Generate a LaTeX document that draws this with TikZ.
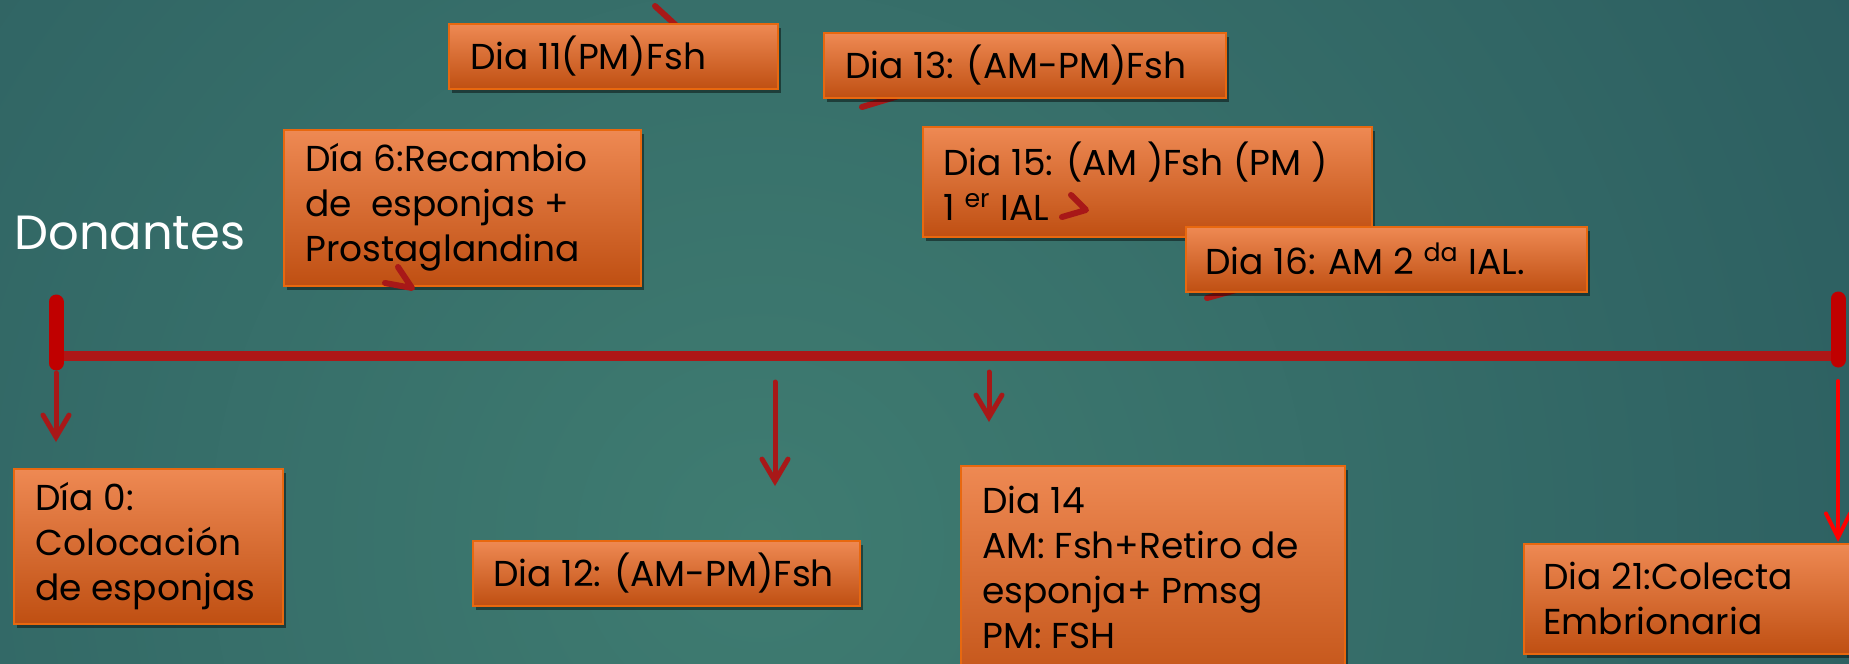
\documentclass[tikz,border=0pt]{standalone}
\usepackage{fontspec}
\setmainfont{Poppins}
\usetikzlibrary{arrows.meta,shadows}
\definecolor{bgdark}{HTML}{1D4653}
\definecolor{bglight}{HTML}{3F7C71}
\definecolor{boxtop}{HTML}{EE8953}
\definecolor{boxbot}{HTML}{BF4F12}
\definecolor{boxline}{HTML}{E8680F}
\definecolor{tlred}{HTML}{AE1717}
\definecolor{barred}{HTML}{C00000}
\definecolor{arrred}{HTML}{A81818}
\definecolor{brightred}{HTML}{FF0000}
\tikzset{
  evbox/.style={draw=boxline, line width=1.2pt, top color=boxtop, bottom color=boxbot,
    anchor=north west, inner sep=0pt,
    drop shadow={shadow xshift=1.5pt, shadow yshift=-2pt, opacity=0.45, fill=black}},
  evtext/.style={anchor=west, align=left, inner sep=0pt,
    font=\fontsize{18}{22.5}\selectfont, text=black},
  tline/.style={draw=tlred, line width=5pt},
  endbar/.style={draw=barred, line width=7.5pt, line cap=round},
  downarrow/.style={draw=arrred, line width=2.5pt, line cap=round,
    -{Straight Barb[length=11pt,width=13pt,line cap=round]}},
  brightarrow/.style={draw=brightred, line width=2pt, line cap=round,
    -{Straight Barb[length=12pt,width=12pt,line cap=round]}},
  frag/.style={draw=arrred, line width=3pt, line cap=round, line join=round}
}
\begin{document}
\begin{tikzpicture}[x=0.5pt,y=-0.5pt]
\useasboundingbox (0,0) rectangle (1849,664);
\clip (0,0) rectangle (1849,664);
% background
\fill[bgdark] (0,0) rectangle (1849,664);
\shade[inner color=bglight, outer color=bgdark] (760,540) circle (2200);

% fragments of connectors hidden behind boxes
\draw[frag] (655,6) -- (692,40);
\draw[frag] (862,107) -- (905,94);
\draw[frag] (1207,298) -- (1236,290);

% timeline
\coordinate (tlL) at (62,356);
\coordinate (tlR) at (1833,356);
\draw[tline] (tlL) -- (tlR);
\coordinate (barLt) at (56,302);
\coordinate (barLb) at (56,363);
\coordinate (barRt) at (1838,299);
\coordinate (barRb) at (1838,360);
\draw[endbar] (barLt) -- (barLb);
\draw[endbar] (barRt) -- (barRb);

% down arrows
\coordinate (a0s) at (56,373);
\coordinate (a0e) at (56,442);
\coordinate (a12s) at (775,382);
\coordinate (a12e) at (775,486);
\coordinate (a14s) at (989,372);
\coordinate (a14e) at (989,422);
\coordinate (a21s) at (1838,381);
\coordinate (a21e) at (1838,542);
\draw[downarrow] (a0s) -- (a0e);
\draw[downarrow] (a12s) -- (a12e);
\draw[downarrow] (a14s) -- (a14e);
\draw[brightarrow] (a21s) -- (a21e);

% boxes
\node[evbox, minimum width=164.5pt, minimum height=32.5pt] (d11) at (448,23) {};
\node[evtext] (t11) at (470,56) {Dia 11(PM)Fsh};
\node[evbox, minimum width=201pt, minimum height=32.5pt] (d13) at (823,32) {};
\node[evtext] (t13) at (845,65) {Dia 13: (AM-PM)Fsh};
\node[evbox, minimum width=178.5pt, minimum height=78pt] (d6) at (283,129) {};
\node[evtext] (t6) at (305,207) {Día 6:Recambio\\de~ esponjas +\\Prostaglandina};
\node[evbox, minimum width=224.5pt, minimum height=55pt] (d15) at (922,126) {};
\node[evtext] (t15) at (943,181) {Dia 15: (AM )Fsh (PM )\\1 \textsuperscript{er} IAL};
\node[evbox, minimum width=200.5pt, minimum height=32.5pt] (d16) at (1185,226) {};
\node[evtext] (t16) at (1205,259) {Dia 16: AM 2 \textsuperscript{da} IAL.};
\node[evbox, minimum width=134.5pt, minimum height=77.5pt] (d0) at (13,468) {};
\node[evtext] (t0) at (35,546) {Día 0:\\Colocación\\de esponjas};
\node[evbox, minimum width=193.5pt, minimum height=32.5pt] (d12) at (472,540) {};
\node[evtext] (t12) at (493,573) {Dia 12: (AM-PM)Fsh};
\node[evbox, minimum width=192pt, minimum height=120pt] (d14) at (960,465) {};
\node[evtext] (t14) at (982,567) {Dia 14\\AM: Fsh+Retiro de\\esponja+ Pmsg\\PM: FSH};
\node[evbox, minimum width=170pt, minimum height=55pt] (d21) at (1523,543) {};
\node[evtext] (t21) at (1543,598) {Dia 21:Colecta\\Embrionaria};

% fragments drawn over boxes
\draw[frag] (398,267) -- (412,288) -- (385,283);
\draw[frag] (1071,195) -- (1086,210) -- (1062,217);

% label
\node[text=white, font=\fontsize{24}{29}\selectfont, anchor=west, inner sep=0pt] (don) at (14,233) {Donantes};
\end{tikzpicture}
\end{document}
